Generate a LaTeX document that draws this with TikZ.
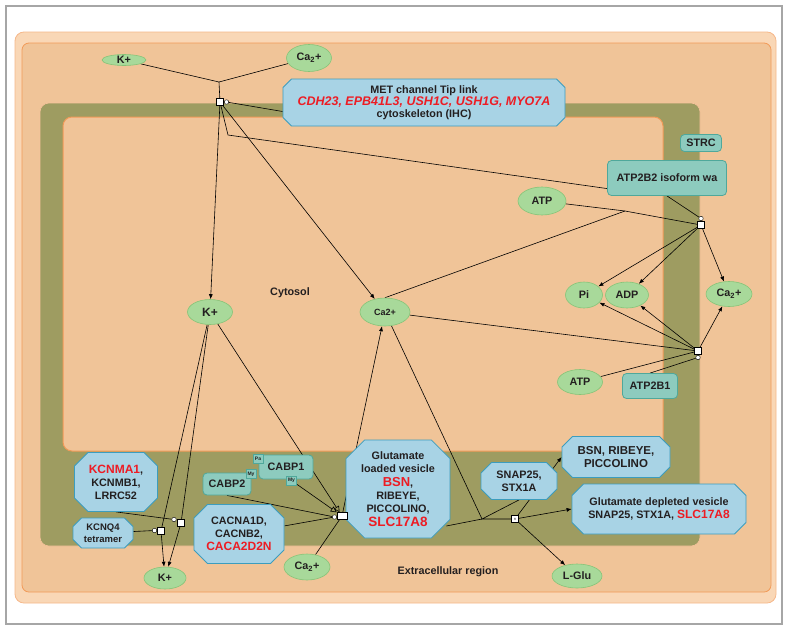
\documentclass[tikz,border=0pt]{standalone}
\usepackage{fontspec}
\setmainfont{Liberation Sans}
\usetikzlibrary{arrows.meta, shapes.geometric, shapes.misc}

\definecolor{peachout}{HTML}{F9D7B6}
\definecolor{peachin}{HTML}{F0C498}
\definecolor{orangeline}{HTML}{F29A58}
\definecolor{olive}{HTML}{9E9C61}
\definecolor{bluefill}{HTML}{A8D3E5}
\definecolor{blueline}{HTML}{3C9DBE}
\definecolor{tealfill}{HTML}{8DCBBE}
\definecolor{tealline}{HTML}{4FA89B}
\definecolor{greenfill}{HTML}{A8D99A}
\definecolor{greenline}{HTML}{86C478}
\definecolor{genered}{HTML}{ED1C24}
\definecolor{ink}{HTML}{231F20}

\newcommand{\caion}{Ca\textsubscript{2}+}
\newcommand{\gene}[1]{{\color{genered}\fontsize{12}{13}\selectfont #1}}

\pgfdeclarelayer{bg}
\pgfdeclarelayer{wires}
\pgfsetlayers{bg,wires,main}

\begin{document}
\begin{tikzpicture}[x=1pt, y=-1pt,
  font=\fontsize{10.8}{13}\selectfont\bfseries, text=ink,
  species/.style={ellipse, draw=greenline, fill=greenfill, inner sep=0pt, line width=0.6pt},
  protein/.style={rectangle, rounded corners=4pt, draw=tealline, fill=tealfill, inner sep=0pt, line width=0.8pt},
  tag/.style={rectangle, draw=tealline, fill=tealfill, inner sep=0pt, minimum width=10pt, minimum height=9pt,
    font=\fontsize{5}{5}\selectfont\bfseries},
  complex/.style={chamfered rectangle, chamfered rectangle xsep=8pt, draw=blueline, fill=bluefill,
    inner sep=0pt, align=center, line width=0.8pt},
  proc/.style={rectangle, draw=black, fill=white, inner sep=0pt, minimum size=7pt, line width=0.5pt},
  mod/.style={circle, draw=black, fill=white, inner sep=0pt, minimum size=4.5pt, line width=0.4pt},
  link/.style={draw=black, line width=0.6pt},
  conv/.style={link, -{Latex[length=5pt, width=4pt]}},
  inhib/.style={link, -{Triangle[open, length=6pt, width=6pt]}}
]

% compartments
\begin{pgfonlayer}{bg}
\fill[white] (0,0) rectangle (791,632);
\draw[gray!70, line width=1.2pt] (6,6) rectangle (782,624);
\draw[fill=peachout, draw=orangeline!70, rounded corners=9pt, line width=0.8pt] (15,32) rectangle (776,603);
\draw[fill=peachin, draw=orangeline, rounded corners=7pt, line width=0.8pt] (22,43) rectangle (771,592);
\draw[fill=olive, draw=orangeline!60, rounded corners=9pt, line width=0.6pt] (40,103) rectangle (700,546);
\draw[fill=peachin, draw=orangeline, rounded corners=9pt, line width=1pt] (63,117) rectangle (663,451);
\end{pgfonlayer}

\node (cytosol) at (290,293) {Cytosol};
\node (extra) at (448,572) {Extracellular region};

% small molecules
\node[species, minimum width=44pt, minimum height=11pt] (kTop) at (124,60) {K+};
\node[species, minimum width=45pt, minimum height=27pt] (caTop) at (309,58) {\caion};
\node[species, minimum width=45pt, minimum height=25pt, font=\fontsize{12}{13}\selectfont\bfseries] (kCyt) at (210,312) {K+};
\node[species, minimum width=50pt, minimum height=28pt, font=\fontsize{9}{10}\selectfont\bfseries] (caCyt) at (385,312) {Ca2+};
\node[species, minimum width=48pt, minimum height=28pt] (atpA) at (542,201) {ATP};
\node[species, minimum width=37pt, minimum height=26pt] (pi) at (584,295) {Pi};
\node[species, minimum width=43pt, minimum height=26pt] (adp) at (627,295) {ADP};
\node[species, minimum width=46pt, minimum height=25pt] (caOut) at (729,294) {\caion};
\node[species, minimum width=45pt, minimum height=25pt] (atpB) at (580,382) {ATP};
\node[species, minimum width=42pt, minimum height=22pt] (kOut) at (165,578) {K+};
\node[species, minimum width=46pt, minimum height=26pt] (caLow) at (307,567) {\caion};
\node[species, minimum width=50pt, minimum height=24pt] (lglu) at (577,576) {L-Glu};

% single proteins
\node[protein, minimum width=41pt, minimum height=17pt] (strc) at (701,143) {STRC};
\node[protein, minimum width=119pt, minimum height=35pt] (atp2b2) at (667,178) {ATP2B2 isoform wa};
\node[protein, minimum width=55pt, minimum height=25pt] (atp2b1) at (650,386) {ATP2B1};
\node[protein, minimum width=54pt, minimum height=24pt] (cabp1) at (286,467) {CABP1};
\node[protein, minimum width=48pt, minimum height=22pt] (cabp2) at (227,484) {CABP2};
\node[tag] (paA) at (258,458.5) {Pa};
\node[tag] (myA) at (291.5,480.5) {My};
\node[tag] (myB) at (251,474) {My};

% complexes
\node[complex, minimum width=282pt, minimum height=47pt, chamfered rectangle xsep=5pt] (met) at (424,102.5)
  {MET channel Tip link\\[-1pt]{\color{genered}\fontsize{12.5}{14}\selectfont\itshape CDH23, EPB41L3, USH1C, USH1G, MYO7A}\\[-1pt]cytoskeleton (IHC)};
\node[complex, minimum width=83pt, minimum height=59pt, chamfered rectangle xsep=10pt] (kcnma) at (116,482)
  {\gene{KCNMA1},\\KCNMB1,\\LRRC52};
\node[complex, minimum width=60pt, minimum height=30pt, chamfered rectangle xsep=5pt, font=\fontsize{9.5}{12}\selectfont\bfseries] (kcnq) at (103,533)
  {KCNQ4\\tetramer};
\node[complex, minimum width=90pt, minimum height=59pt, chamfered rectangle xsep=10pt] (cacna) at (239,534)
  {CACNA1D,\\CACNB2,\\\gene{CACA2D2N}};
\node[complex, minimum width=99pt, minimum height=98pt, chamfered rectangle xsep=15pt] (gluL) at (398,489)
  {Glutamate\\loaded vesicle\\[1pt]{\color{genered}\fontsize{13}{14}\selectfont BSN},\\RIBEYE,\\PICCOLINO,\\[1pt]{\color{genered}\fontsize{13.5}{14}\selectfont SLC17A8}};
\node[complex, minimum width=76pt, minimum height=37pt, chamfered rectangle xsep=7pt] (snap) at (519,481)
  {SNAP25,\\STX1A};
\node[complex, minimum width=108pt, minimum height=41pt, chamfered rectangle xsep=7pt, font=\fontsize{11.5}{13}\selectfont\bfseries] (bsn) at (616,457)
  {BSN, RIBEYE,\\PICCOLINO};
\node[complex, minimum width=174pt, minimum height=50pt, chamfered rectangle xsep=8pt] (gluD) at (659,509)
  {Glutamate depleted vesicle\\SNAP25, STX1A, \gene{SLC17A8}};

% process glyphs
\coordinate (jMet) at (219,82);
\coordinate (bend) at (228,135);
\node[proc] (pMet) at (220,102) {};
\node[mod] (cMet) at (226.5,102) {};
\coordinate (jAtp) at (625,211);
\node[proc] (pPmA) at (701,225) {};
\node[mod] (cPmA) at (701,218.5) {};
\node[proc] (pPmB) at (698,351) {};
\node[mod] (cPmB) at (698,357.5) {};
\node[proc] (pBk) at (181,523) {};
\node[mod] (cBk) at (174,519.5) {};
\node[proc] (pKq) at (161,531) {};
\node[mod] (cKq) at (154.5,530.5) {};
\node[proc, minimum width=10pt] (pCav) at (342,516) {};
\node[mod] (cCav) at (334.5,517) {};
\coordinate (jExo) at (482,519);
\node[proc, font=\fontsize{4}{4}\selectfont] (pExo) at (515,519) {n};

% connectors
\begin{pgfonlayer}{wires}
\draw[link] (kTop) -- (jMet) -- (caTop);
\draw[link] (jMet) -- (pMet);
\draw[link] (cMet) -- ([yshift=-9pt]met.west);
\draw[conv] (pMet) -- (kCyt);
\draw[conv] (pMet) -- (caCyt);
\draw[link] (pMet) -- (bend) -- (atp2b2.190);

\draw[link] (atpA) -- (jAtp) -- (pPmA);
\draw[link] (jAtp) -- (caCyt.north);
\draw[link] (atp2b2.south) -- (cPmA);
\draw[conv] (pPmA) -- (pi);
\draw[conv] (pPmA) -- (adp);
\draw[conv] (pPmA) -- (caOut);

\draw[link] (caCyt) -- (pPmB);
\draw[link] (atpB) -- (pPmB);
\draw[link] (atp2b1.north) -- (cPmB);
\draw[conv] (pPmB) -- (pi);
\draw[conv] (pPmB) -- (adp);
\draw[conv] (pPmB) -- (caOut);

\draw[link] (kCyt) -- (pKq);
\draw[link] (kCyt) -- (pBk);
\draw[conv] (pKq) -- (kOut);
\draw[conv] (pBk) -- (kOut);
\draw[link] (kcnma.south) -- (cBk);
\draw[link] (kcnq) -- (cKq);

\draw[inhib] (kCyt) -- (pCav);
\draw[inhib] (myA) -- (pCav);
\draw[link] (cabp2.south) -- (cCav);
\draw[link] (cacna) -- (cCav);
\draw[link] (caLow) -- (pCav);
\draw[conv] (pCav) -- (caCyt);

\draw[link] ([xshift=-4pt, yshift=-37pt]gluL.east) -- (jExo);
\draw[link] (caCyt) -- (jExo);
\draw[link] (snap.south) -- (jExo) -- (pExo);
\draw[conv] (pExo) -- (gluD.west);
\draw[conv] (pExo) -- (lglu);
\draw[conv] (pExo) -- (bsn.west);
\end{pgfonlayer}

\end{tikzpicture}
\end{document}
